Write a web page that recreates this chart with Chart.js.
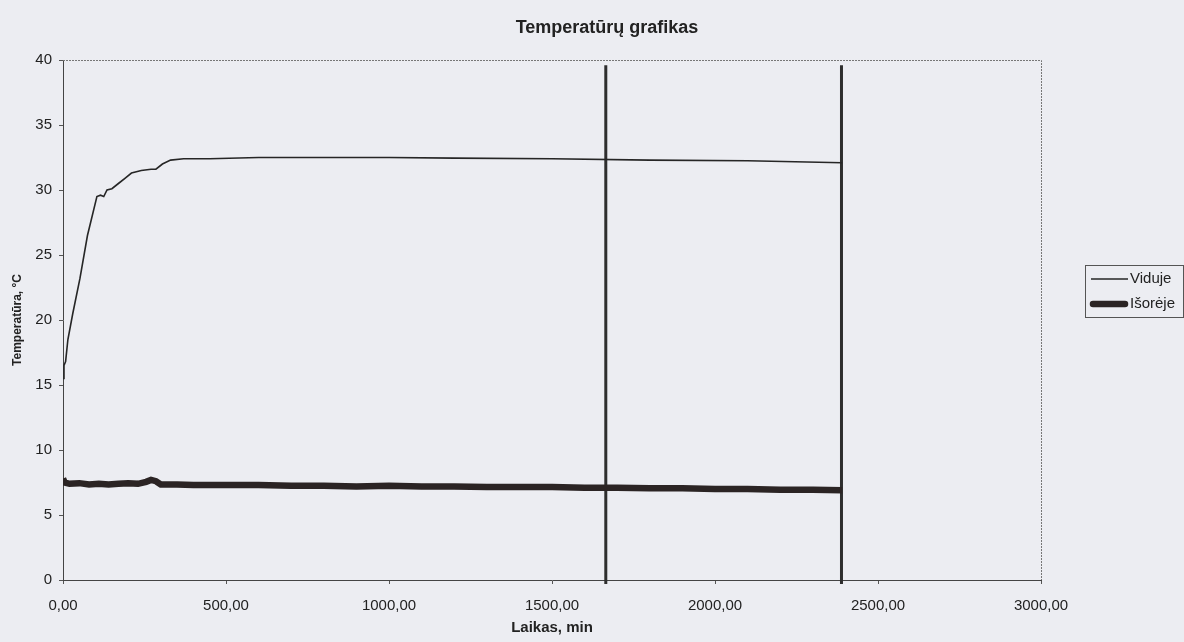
<!DOCTYPE html>
<html>
  <head>
    <title>Temperatūrų grafikas</title>
    <script src="https://cdn.jsdelivr.net/npm/chart.js"></script>
    <style>
      body {
        margin: 0;
        background: #ecedf2;
      }
      .chart-container {
        width: 1184px;
        height: 642px;
      }
    </style>
  </head>
  <body>
    <div class="chart-container">
      <canvas id="tempChart" width="1184" height="642"></canvas>
    </div>

    <script>
      // Laikas, min / Temperatūra, °C
      const vidujeTime = [0, 3, 8, 15, 30, 52, 75, 104, 115, 125, 135, 150, 170, 190, 210, 240, 270, 285, 305, 330, 370, 450, 600, 800, 1000, 1200, 1500, 1800, 2100, 2390];
      const vidujeTemp = [15.5, 16.5, 16.8, 18.5, 20.5, 23.2, 26.5, 29.5, 29.6, 29.5, 30.0, 30.1, 30.5, 30.9, 31.3, 31.5, 31.6, 31.6, 32.0, 32.3, 32.4, 32.4, 32.5, 32.5, 32.5, 32.45, 32.4, 32.3, 32.25, 32.1];

      const isorejeTime = [0, 5, 20, 50, 80, 110, 140, 170, 200, 230, 255, 270, 285, 300, 350, 400, 500, 600, 700, 800, 900, 1000, 1100, 1200, 1300, 1400, 1500, 1600, 1700, 1800, 1900, 2000, 2100, 2200, 2300, 2390];
      const isorejeTemp = [7.8, 7.5, 7.4, 7.45, 7.35, 7.4, 7.35, 7.4, 7.45, 7.4, 7.55, 7.7, 7.6, 7.35, 7.35, 7.3, 7.3, 7.3, 7.25, 7.25, 7.2, 7.25, 7.2, 7.2, 7.15, 7.15, 7.15, 7.1, 7.1, 7.05, 7.05, 7.0, 7.0, 6.95, 6.95, 6.9];

      // vertical marker lines
      const markerTimes = [1665, 2388];
      const markerRange = [-0.3, 39.6];

      const xTicks = [0, 500, 1000, 1500, 2000, 2500, 3000];

      function toPoints(xs, ys) {
        return xs.map((x, i) => ({ x: x, y: ys[i] }));
      }

      const markerSets = markerTimes.map((t) => ({
        label: "",
        data: markerRange.map((y) => ({ x: t, y: y })),
        borderColor: "#2e2e2e",
        borderWidth: 3,
        pointRadius: 0,
        clip: false,
        isMarker: true,
      }));

      // title is centred on the whole page, not on the plot
      const titleShift = {
        id: "titleShift",
        afterLayout(chart) {
          chart.titleBlock.left = 30;
          chart.titleBlock.right = 1184;
        },
      };

      const plotBorder = {
        id: "plotBorder",
        beforeDatasetsDraw(chart) {
          const a = chart.chartArea;
          const ctx = chart.ctx;
          ctx.save();
          ctx.strokeStyle = "#777";
          ctx.lineWidth = 1;
          ctx.setLineDash([2, 1]);
          ctx.beginPath();
          ctx.moveTo(a.left, a.top + 0.5);
          ctx.lineTo(a.right + 0.5, a.top + 0.5);
          ctx.lineTo(a.right + 0.5, a.bottom);
          ctx.stroke();
          ctx.restore();
        },
      };

      const boxLegend = {
        id: "boxLegend",
        afterDraw(chart) {
          const ctx = chart.ctx;
          const sets = chart.data.datasets.filter((d) => !d.isMarker);
          const left = 1085, top = 265, w = 98, rowH = 25;
          ctx.save();
          ctx.strokeStyle = "#555";
          ctx.lineWidth = 1;
          ctx.strokeRect(left + 0.5, top + 0.5, w, rowH * sets.length + 2);
          ctx.font = "15px 'Liberation Sans', Arial, sans-serif";
          ctx.textBaseline = "middle";
          ctx.fillStyle = "#222";
          sets.forEach((d, i) => {
            const y = top + 14 + i * rowH;
            ctx.strokeStyle = d.borderColor;
            ctx.lineWidth = d.borderWidth;
            ctx.lineCap = i === 0 ? "butt" : "round";
            ctx.beginPath();
            ctx.moveTo(left + (i === 0 ? 6 : 8), y);
            ctx.lineTo(left + (i === 0 ? 43 : 40), y);
            ctx.stroke();
            ctx.fillText(d.label, left + 45, y);
          });
          ctx.restore();
        },
      };

      window.onload = () => {
        const ctx = document.getElementById("tempChart").getContext("2d");
        new Chart(ctx, {
          type: "line",
          data: {
            datasets: [
              {
                label: "Viduje",
                data: toPoints(vidujeTime, vidujeTemp),
                borderColor: "#262626",
                borderWidth: 1.6,
                pointRadius: 0,
                tension: 0,
              },
              {
                label: "Išorėje",
                data: toPoints(isorejeTime, isorejeTemp),
                borderColor: "#2b2424",
                borderWidth: 6.5,
                pointRadius: 0,
                tension: 0,
              },
              ...markerSets,
            ],
          },
          options: {
            responsive: false,
            animation: false,
            layout: { padding: { left: 0, right: 143, top: 0, bottom: 2 } },
            plugins: {
              legend: { display: false },
              tooltip: { enabled: false },
              title: {
                display: true,
                text: "Temperatūrų grafikas",
                color: "#222",
                font: { family: "'Liberation Sans', Arial", size: 18, weight: "bold" },
                padding: { top: 17, bottom: 21.4 },
              },
            },
            scales: {
              x: {
                type: "linear",
                min: 0,
                max: 3000,
                afterBuildTicks: (s) => {
                  s.ticks = xTicks.map((v) => ({ value: v }));
                },
                afterFit: (s) => {
                  s.height = 60;
                },
                ticks: {
                  color: "#222",
                  font: { family: "'Liberation Sans', Arial", size: 15 },
                  padding: 13,
                  maxRotation: 0,
                  callback: (v) => v.toFixed(2).replace(".", ","),
                },
                grid: { drawOnChartArea: false, tickLength: 4, color: "#555" },
                border: { color: "#444", width: 1 },
                title: {
                  display: true,
                  text: "Laikas, min",
                  color: "#222",
                  font: { family: "'Liberation Sans', Arial", size: 15, weight: "bold" },
                  padding: { top: 2, bottom: 3 },
                },
              },
              y: {
                min: 0,
                max: 40,
                afterFit: (s) => {
                  s.width = 63;
                },
                ticks: {
                  stepSize: 5,
                  color: "#222",
                  font: { family: "'Liberation Sans', Arial", size: 15 },
                  padding: 7,
                },
                grid: { drawOnChartArea: false, tickLength: 4, color: "#555" },
                border: { color: "#444", width: 1 },
                title: {
                  display: true,
                  text: "Temperatūra, °C",
                  color: "#222",
                  font: { family: "'Liberation Sans', Arial", size: 12, weight: "bold" },
                  padding: { bottom: 0, top: 10 },
                },
              },
            },
          },
          plugins: [titleShift, plotBorder, boxLegend],
        });
      };
    </script>
  </body>
</html>
